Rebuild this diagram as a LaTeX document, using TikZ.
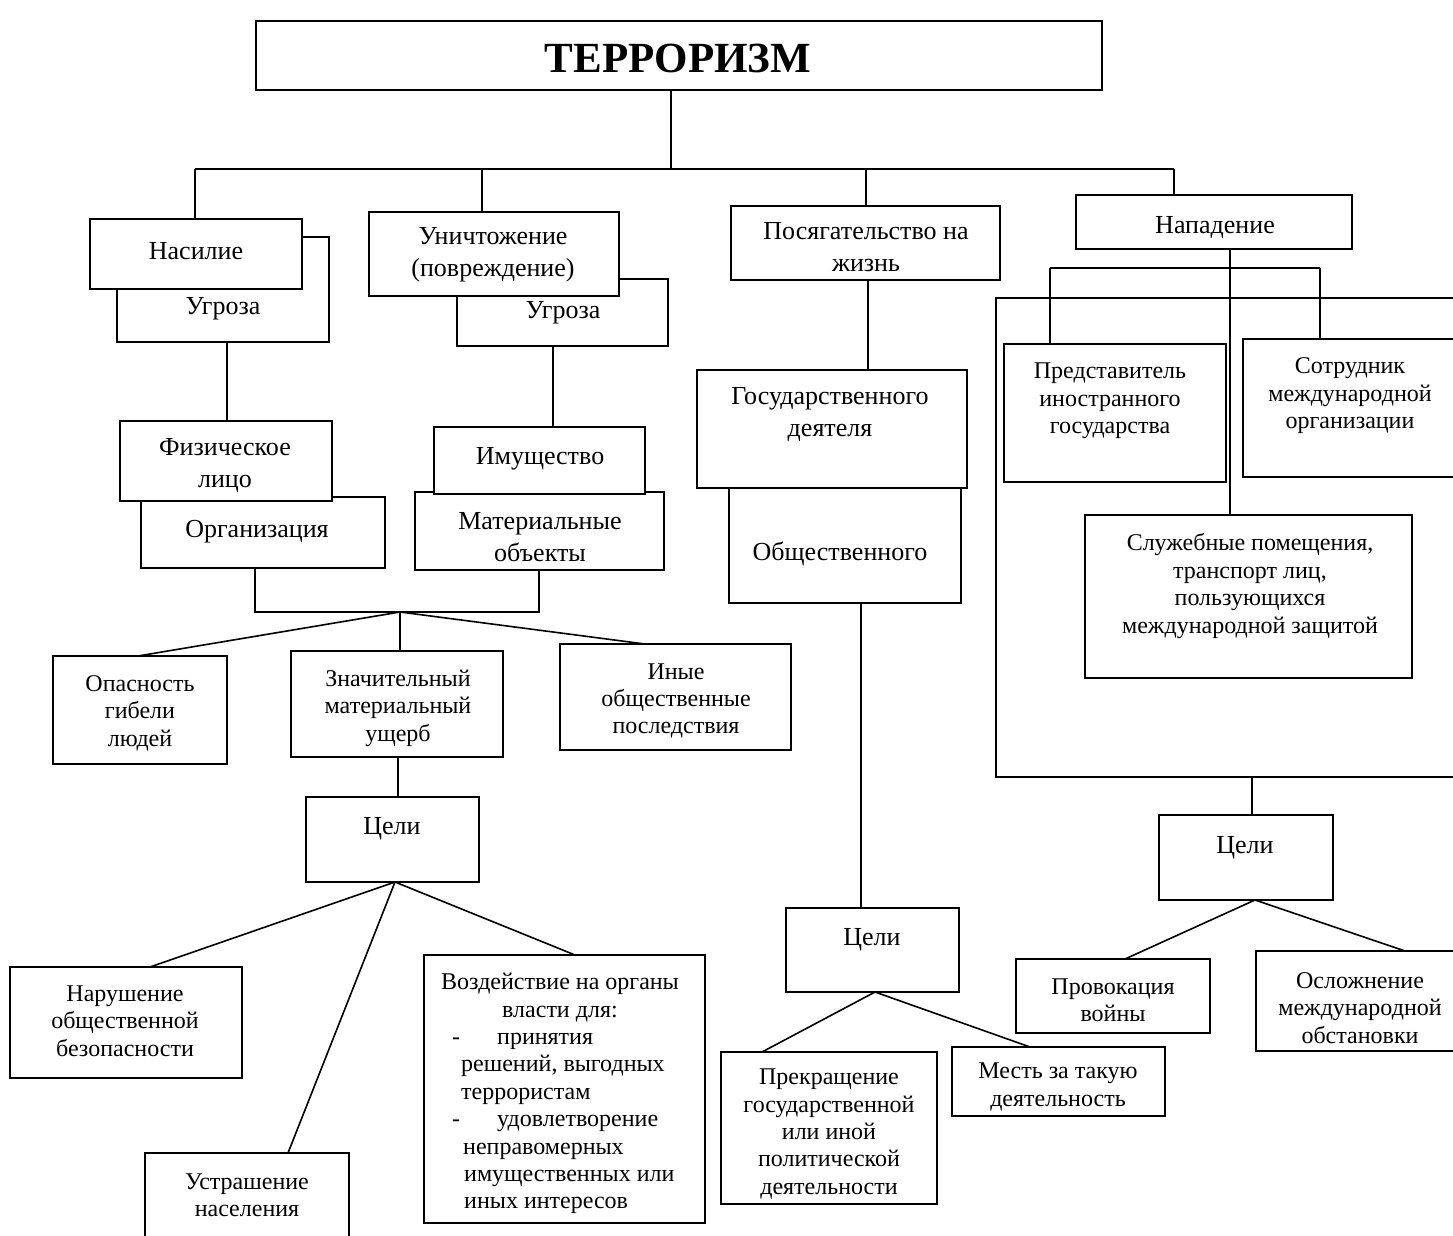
\documentclass[tikz,border=0pt]{standalone}
\usepackage{fontspec}
\setmainfont{Liberation Serif}
\newcommand\mkbox[5]{\node[bx, minimum width={#4-#2}, minimum height={#5-#3}] (#1) at ({(#2+#4)/2},{(#3+#5)/2}) {};}
\begin{document}
\begin{tikzpicture}[x=1pt,y=-1pt,
  bx/.style={draw, line width=1.6pt, fill=white, inner sep=0pt, outer sep=0pt},
  big/.style={font=\fontsize{26}{32}\selectfont, align=center, inner sep=0pt, yshift=-4pt},
  sm/.style={font=\fontsize{24}{27.4}\selectfont, align=center, inner sep=0pt, yshift=-3pt},
  ln/.style={line width=1.6pt}]
\useasboundingbox[fill=white] (0,0) rectangle (1453,1236);
\clip (0,0) rectangle (1453,1236);

% ---------- boxes ----------
\mkbox{title}{256}{21}{1102}{90}
\mkbox{ugr1}{117}{237}{329}{342}
\mkbox{nas}{90}{219}{302}{289}
\mkbox{ugr2}{457}{279}{668}{346}
\mkbox{unich}{369}{212}{619}{296}
\mkbox{org}{141}{497}{385}{568}
\mkbox{fiz}{120}{421}{332}{501}
\mkbox{mat}{415}{492}{664}{570}
\mkbox{im}{434}{427}{645}{494}
\mkbox{opas}{53}{656}{227}{764}
\mkbox{zn}{291}{651}{503}{757}
\mkbox{ine}{560}{644}{791}{750}
\mkbox{cel1}{306}{797}{479}{882}
\mkbox{nar}{10}{967}{242}{1078}
\mkbox{ustr}{145}{1153}{349}{1260}
\mkbox{vozd}{424}{955}{705}{1223}
\mkbox{pos}{731}{206}{1000}{280}
\mkbox{obsh}{729}{485}{961}{603}
\mkbox{gos}{697}{370}{967}{488}
\mkbox{cel2}{786}{908}{959}{992}
\mkbox{prek}{721}{1052}{937}{1204}
\mkbox{mest}{952}{1047}{1165}{1116}
\mkbox{nap}{1076}{195}{1352}{249}
\mkbox{bigb}{996}{298}{1480}{777}
\mkbox{pred}{1004}{344}{1226}{482}
\mkbox{sotr}{1243}{339}{1480}{477}
\mkbox{sluzh}{1085}{515}{1412}{678}
\mkbox{cel3}{1159}{815}{1333}{900}
\mkbox{prov}{1016}{959}{1210}{1033}
\mkbox{osl}{1256}{951}{1480}{1051}

% ---------- connectors ----------
\coordinate (hl) at (195,169);
\coordinate (hr) at (1174,169);
\draw[ln] (671,0 |- title.south) -- (671,169);
\draw[ln] (hl) -- (hr);
\draw[ln] (hl) -- (195,0 |- nas.north);
\draw[ln] (482,169) -- (482,0 |- unich.north);
\draw[ln] (866,169) -- (866,0 |- pos.north);
\draw[ln] (hr) -- (1174,0 |- nap.north);

\draw[ln] (227,0 |- ugr1.south) -- (227,0 |- fiz.north);
\draw[ln] (553,0 |- ugr2.south) -- (553,0 |- im.north);
\coordinate (j1) at (400,612);
\draw[ln] (255,0 |- org.south) -- (255,612) -- (539,612) -- (539,0 |- mat.south);
\draw[ln] (j1) -- (138,0 |- opas.north);
\draw[ln] (j1) -- (400,0 |- zn.north);
\draw[ln] (j1) -- (645,0 |- ine.north);
\draw[ln] (398,0 |- zn.south) -- (398,0 |- cel1.north);
\coordinate (j2) at (395,0 |- cel1.south);
\draw[ln] (j2) -- (150,0 |- nar.north);
\draw[ln] (j2) -- (288,0 |- ustr.north);
\draw[ln] (j2) -- (575,0 |- vozd.north);

\draw[ln] (868,0 |- pos.south) -- (868,0 |- gos.north);
\draw[ln] (861,0 |- obsh.south) -- (861,0 |- cel2.north);
\coordinate (j3) at (875,0 |- cel2.south);
\draw[ln] (j3) -- (762,0 |- prek.north);
\draw[ln] (j3) -- (1030,0 |- mest.north);

\draw[ln] (1230,0 |- nap.south) -- (1230,0 |- sluzh.north);
\draw[ln] (1050,268) -- (1320,268);
\draw[ln] (1050,268) -- (1050,0 |- pred.north);
\draw[ln] (1320,268) -- (1320,0 |- sotr.north);
\draw[ln] (1252,0 |- bigb.south) -- (1252,0 |- cel3.north);
\coordinate (j4) at (1255,0 |- cel3.south);
\draw[ln] (j4) -- (1125,0 |- prov.north);
\draw[ln] (j4) -- (1405,0 |- osl.north);

% ---------- texts ----------
\node[inner sep=0pt, font=\bfseries\fontsize{43}{48}\selectfont] (title-t) at (678,58) {ТЕРРОРИЗМ};
\node[big] (nas-t) at (196,247) {Насилие};
\node[big] (ugr1-t) at (223,305) {Угроза};
\node[big] (unich-t) at (493,251) {Уничтожение\\(повреждение)};
\node[big] (ugr2-t) at (563,309) {Угроза};
\node[big] (fiz-t) at (225,461) {Физическое\\лицо};
\node[big] (org-t) at (257,528) {Организация};
\node[big] (im-t) at (540,455) {Имущество};
\node[big] (mat-t) at (540,533) {Материальные\\объекты};
\node[big] (pos-t) at (866,243) {Посягательство на\\жизнь};
\node[big] (gos-t) at (830,410) {Государственного\\деятеля};
\node[big] (obsh-t) at (840,550) {Общественного};
\node[big] (nap-t) at (1215,224) {Нападение};
\node[big] (cel1-t) at (392,825) {Цели};
\node[big] (cel2-t) at (872,936) {Цели};
\node[big] (cel3-t) at (1245,844) {Цели};

\node[sm] (opas-t) at (140,710) {Опасность\\гибели\\людей};
\node[sm] (zn-t) at (398,705) {Значительный\\материальный\\ущерб};
\node[sm] (ine-t) at (676,698) {Иные\\общественные\\последствия};
\node[sm] (nar-t) at (125,1018) {Нарушение\\общественной\\безопасности};
\node[sm] (ustr-t) at (247,1192) {Устрашение\\населения};
\node[sm] (prek-t) at (829,1131) {Прекращение\\государственной\\или иной\\политической\\деятельности};
\node[sm] (mest-t) at (1058,1084) {Месть за такую\\деятельность};
\node[sm] (prov-t) at (1113,997) {Провокация\\войны};
\node[sm] (osl-t) at (1360,1005) {Осложнение\\международной\\обстановки};
\node[sm] (pred-t) at (1110,398) {Представитель\\иностранного\\государства};
\node[sm] (sotr-t) at (1350,393) {Сотрудник\\международной\\организации};
\node[sm] (sluzh-t) at (1250,583) {Служебные помещения,\\транспорт лиц,\\пользующихся\\международной защитой};
\node[sm, align=left, anchor=north west] (vozd-t) at (441,970) {%
Воздействие на органы\\
\hspace*{61pt}власти для:\\
\hspace*{11pt}-\hspace{37pt}принятия\\
\hspace*{20pt}решений, выгодных\\
\hspace*{20pt}террористам\\
\hspace*{11pt}-\hspace{37pt}удовлетворение\\
\hspace*{22pt}неправомерных\\
\hspace*{23pt}имущественных или\\
\hspace*{23pt}иных интересов};
\end{tikzpicture}
\end{document}
